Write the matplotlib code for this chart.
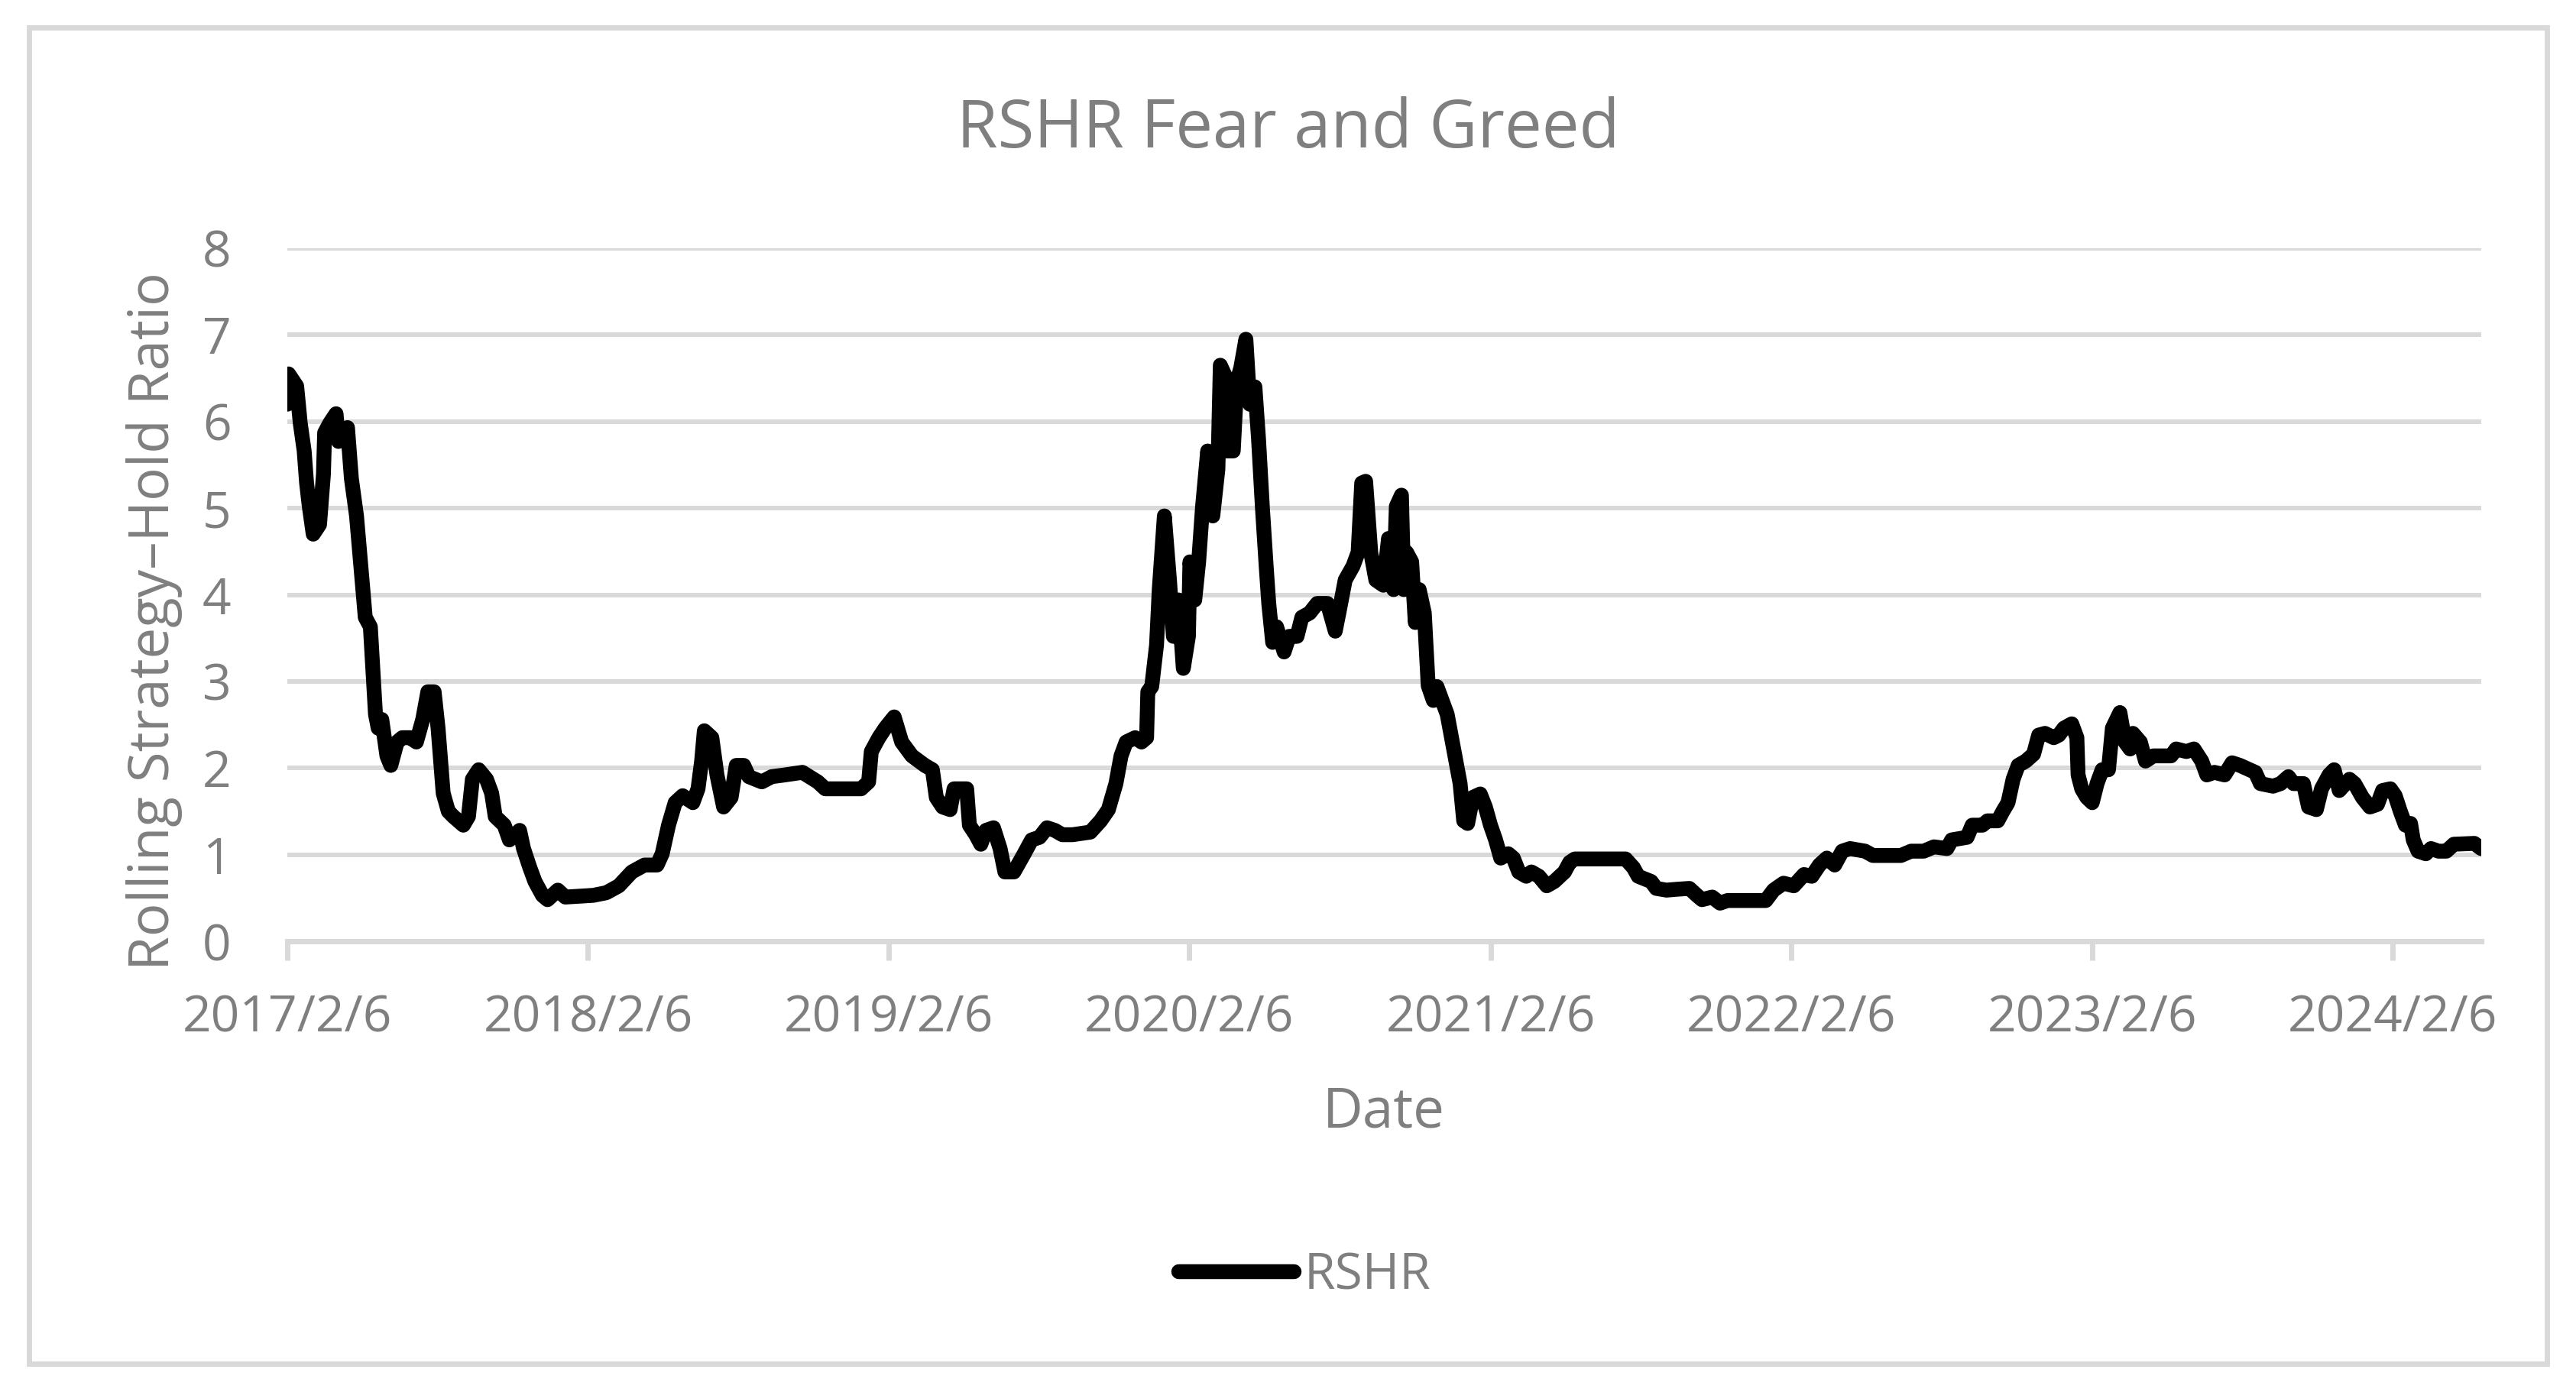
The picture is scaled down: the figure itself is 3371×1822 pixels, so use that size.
import datetime as dt
import numpy as np
import matplotlib
matplotlib.use('Agg')
import matplotlib.pyplot as plt
import matplotlib.dates as mdates
from matplotlib.patches import Rectangle

plt.rcParams['font.family'] = ['Open Sans', 'DejaVu Sans']

# time as years after the first date, value of the ratio
start_date = dt.date(2017, 2, 6)
years_since_start = [
    0.000, 0.004, 0.031, 0.043, 0.056, 0.064, 0.073, 0.086, 0.107, 0.120,
    0.124, 0.141, 0.162, 0.170, 0.200, 0.213, 0.230, 0.247, 0.259, 0.276,
    0.285, 0.293, 0.302, 0.314, 0.331, 0.344, 0.365, 0.382, 0.408, 0.429,
    0.450, 0.467, 0.488, 0.501, 0.518, 0.535, 0.552, 0.585, 0.602, 0.615,
    0.636, 0.662, 0.679, 0.691, 0.721, 0.738, 0.772, 0.785, 0.806, 0.823,
    0.848, 0.865, 0.899, 0.924, 1.017, 1.060, 1.102, 1.145, 1.187, 1.229,
    1.246, 1.267, 1.289, 1.314, 1.348, 1.365, 1.377, 1.386, 1.411, 1.428,
    1.450, 1.475, 1.492, 1.517, 1.534, 1.577, 1.610, 1.653, 1.712, 1.763,
    1.788, 1.907, 1.932, 1.941, 1.966, 1.987, 2.017, 2.042, 2.076, 2.119,
    2.144, 2.157, 2.178, 2.203, 2.216, 2.258, 2.267, 2.288, 2.305, 2.322,
    2.347, 2.369, 2.385, 2.415, 2.449, 2.474,
    2.500, 2.525, 2.551, 2.576, 2.610, 2.669, 2.703, 2.729, 2.754, 2.771,
    2.788, 2.818, 2.839, 2.856, 2.860, 2.873, 2.889, 2.898, 2.915, 2.932,
    2.945, 2.962, 2.978, 2.995, 3.000, 3.016, 3.029, 3.042, 3.059, 3.076,
    3.093, 3.101, 3.118, 3.122, 3.144, 3.156, 3.169, 3.186, 3.199, 3.216,
    3.228, 3.241, 3.254, 3.262, 3.275, 3.288, 3.313, 3.330, 3.356, 3.372,
    3.398, 3.423, 3.457, 3.483, 3.495, 3.516, 3.542, 3.559, 3.571, 3.584,
    3.601, 3.618, 3.643, 3.660, 3.677, 3.686, 3.703, 3.711, 3.720, 3.737,
    3.749, 3.762, 3.779,
    3.792, 3.809, 3.821, 3.855, 3.898, 3.910, 3.923, 3.940, 3.965, 3.982,
    3.999, 4.016, 4.033, 4.058, 4.075, 4.093, 4.118, 4.135, 4.160, 4.186,
    4.211, 4.245, 4.262, 4.279, 4.448, 4.474, 4.490, 4.533, 4.550, 4.584,
    4.618, 4.660, 4.685, 4.702, 4.736, 4.762, 4.787, 4.914, 4.940, 4.973,
    5.007,
    5.041, 5.067, 5.092, 5.117, 5.143, 5.168, 5.194, 5.244, 5.270, 5.363,
    5.397, 5.439, 5.473, 5.516, 5.532, 5.583, 5.600, 5.634, 5.651, 5.685,
    5.702, 5.719, 5.736, 5.753, 5.778, 5.804, 5.821, 5.842, 5.871, 5.888,
    5.905, 5.931, 5.948, 5.952, 5.964, 5.981, 5.999, 6.015, 6.032, 6.053,
    6.066, 6.091, 6.108, 6.125, 6.134, 6.159, 6.176, 6.202, 6.227, 6.261,
    6.278,
    6.312, 6.337, 6.363, 6.380, 6.405, 6.439, 6.464, 6.490, 6.541, 6.558,
    6.600, 6.625, 6.651, 6.668, 6.701, 6.718, 6.744, 6.761, 6.786, 6.803,
    6.820, 6.854, 6.871, 6.897, 6.922, 6.947, 6.964, 6.990, 7.006, 7.023,
    7.040, 7.057, 7.066, 7.082, 7.108, 7.125, 7.150, 7.176, 7.201, 7.269,
    7.292,
]
rshr = [
    6.20, 6.55, 6.41, 5.98, 5.66, 5.29, 5.02, 4.70, 4.81, 5.39,
    5.87, 5.98, 6.09, 5.77, 5.93, 5.34, 4.91, 4.22, 3.74, 3.63,
    3.10, 2.62, 2.46, 2.56, 2.14, 2.03, 2.30, 2.35, 2.35, 2.30,
    2.56, 2.88, 2.88, 2.46, 1.71, 1.50, 1.44, 1.34, 1.44, 1.87,
    1.98, 1.87, 1.71, 1.44, 1.34, 1.17, 1.28, 1.07, 0.85, 0.69,
    0.53, 0.48, 0.59, 0.51, 0.53, 0.56, 0.64, 0.80, 0.88, 0.88,
    1.01, 1.34, 1.60, 1.68, 1.60, 1.76, 2.08, 2.43, 2.35, 1.92,
    1.55, 1.66, 2.03, 2.03, 1.90, 1.84, 1.90, 1.92, 1.95, 1.84,
    1.76, 1.76, 1.84, 2.19, 2.35, 2.46, 2.59, 2.30, 2.14, 2.03,
    1.98, 1.66, 1.55, 1.52, 1.76, 1.76, 1.34, 1.23, 1.12, 1.28,
    1.31, 1.07, 0.80, 0.80, 1.01, 1.17,
    1.20, 1.31, 1.28, 1.23, 1.23, 1.26, 1.39, 1.52, 1.82, 2.14,
    2.30, 2.35, 2.30, 2.35, 2.88, 2.94, 3.42, 4.06, 4.91, 4.17,
    3.52, 3.94, 3.15, 3.52, 4.38, 3.94, 4.38, 5.02, 5.66, 4.91,
    5.45, 6.65, 6.52, 5.66, 5.66, 6.46, 6.62, 6.95, 6.20, 6.40,
    5.80, 5.00, 4.30, 3.90, 3.45, 3.63, 3.34, 3.52, 3.52, 3.74,
    3.79, 3.90, 3.90, 3.58, 3.79, 4.17, 4.33, 4.49, 5.29, 5.31,
    4.49, 4.17, 4.11, 4.65, 4.06, 5.02, 5.15, 4.06, 4.49, 4.38,
    3.68, 4.06, 3.79,
    2.95, 2.78, 2.94, 2.62, 1.82, 1.39, 1.36, 1.66, 1.70, 1.55,
    1.34, 1.17, 0.96, 1.01, 0.96, 0.80, 0.75, 0.80, 0.75, 0.64,
    0.69, 0.80, 0.91, 0.95, 0.95, 0.85, 0.75, 0.69, 0.61, 0.59,
    0.60, 0.61, 0.53, 0.48, 0.51, 0.44, 0.47, 0.47, 0.59, 0.67,
    0.64,
    0.77, 0.75, 0.88, 0.96, 0.88, 1.04, 1.07, 1.04, 0.99, 0.99,
    1.04, 1.04, 1.09, 1.07, 1.17, 1.20, 1.34, 1.34, 1.39, 1.39,
    1.50, 1.60, 1.87, 2.03, 2.08, 2.16, 2.38, 2.40, 2.35, 2.38,
    2.46, 2.51, 2.35, 1.92, 1.76, 1.66, 1.60, 1.82, 1.98, 1.98,
    2.46, 2.64, 2.30, 2.22, 2.40, 2.30, 2.08, 2.14, 2.14, 2.14,
    2.22,
    2.19, 2.22, 2.08, 1.92, 1.95, 1.92, 2.06, 2.03, 1.95, 1.82,
    1.79, 1.82, 1.90, 1.82, 1.82, 1.55, 1.52, 1.76, 1.92, 1.98,
    1.74, 1.87, 1.82, 1.66, 1.55, 1.58, 1.74, 1.76, 1.68, 1.50,
    1.34, 1.36, 1.17, 1.04, 1.01, 1.07, 1.04, 1.04, 1.12, 1.13,
    1.07,
]
tick_years = [2017, 2018, 2019, 2020, 2021, 2022, 2023, 2024]

x0 = mdates.date2num(start_date)
xs = x0 + np.array(years_since_start) * 365.25

grey_text = '#7f7f7f'
grey_line = '#d9d9d9'

W, H = 3371, 1822
fig = plt.figure(figsize=(W / 100, H / 100), dpi=100)
ax = fig.add_axes([376 / W, 1 - 1232 / H, (3247 - 376) / W, (1232 - 325) / H])

ax.plot(xs, rshr, color='black', lw=14, solid_joinstyle='round',
        solid_capstyle='round', label='RSHR', zorder=3)

ax.set_ylim(0, 8)
ax.set_xlim(xs[0], xs[-1])
ax.set_yticks(range(0, 9))
ticks = [mdates.date2num(dt.date(y, 2, 6)) for y in tick_years]
ax.set_xticks(ticks)
ax.set_xticklabels([f'{y}/2/6' for y in tick_years])

ax.grid(axis='y', color=grey_line, lw=4.3, zorder=0)
ax.set_axisbelow(True)
for s in ['top', 'right', 'left']:
    ax.spines[s].set_visible(False)
ax.spines['bottom'].set_color(grey_line)
ax.spines['bottom'].set_linewidth(5)
ax.spines['bottom'].set_zorder(1)

ax.tick_params(axis='y', length=0, pad=53, labelsize=47.4, labelcolor=grey_text)
ax.tick_params(axis='x', length=18, width=5, color=grey_line, pad=31,
               labelsize=47.4, labelcolor=grey_text)

fig.text(1686 / W, 1 - 193 / H, 'RSHR Fear and Greed', ha='center', va='baseline',
         fontsize=62.5, color=grey_text)
fig.text(1811 / W, 1 - 1475 / H, 'Date', ha='center', va='baseline',
         fontsize=52.4, color=grey_text)
fig.text(202 / W, 1 - 813 / H, 'Rolling Strategy\u2013Hold Ratio', rotation=90,
         ha='center', va='center', fontsize=52.4, color=grey_text)

leg = fig.legend(loc='center', bbox_to_anchor=(1707 / W, 1 - 1670 / H),
                 frameon=False, fontsize=47.4, handlelength=2.3,
                 handletextpad=0.2)
for t in leg.get_texts():
    t.set_color(grey_text)

fig.patches.append(Rectangle((37.5 / W, 37.5 / H), (3333 - 37.5) / W, (1786 - 37.5) / H,
                             transform=fig.transFigure, fill=False,
                             edgecolor=grey_line, lw=5))

fig.savefig('out.png', dpi=100, facecolor='white')
